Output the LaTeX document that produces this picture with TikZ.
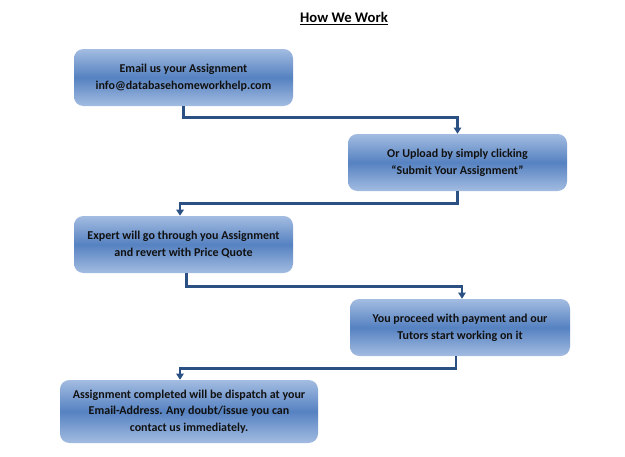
\documentclass[tikz,border=0pt]{standalone}
\usepackage{fontspec}
\setmainfont{Carlito}
\usetikzlibrary{arrows.meta,positioning,calc}
\definecolor{Navy}{HTML}{2B5083}
\definecolor{BoxLight}{HTML}{A3BCE1}
\definecolor{BoxMid}{HTML}{5682C1}
\definecolor{DarkText}{HTML}{111111}
\tikzset{
  stepbox/.style={rounded corners=7pt, top color=BoxLight, bottom color=BoxLight, middle color=BoxMid, minimum width=164.25pt, minimum height=42.75pt, inner sep=1pt, align=center, text=DarkText, font=\bfseries\fontsize{9}{12.5}\selectfont},
  arr/.style={-{Triangle[width=5.5pt,length=4.5pt]}, line width=2pt, draw=Navy}
}
\begin{document}
\begin{tikzpicture}[x=.75pt,y=-.75pt]
\useasboundingbox[fill=white] (0,0) rectangle (625,457);
\node[font=\bfseries\fontsize{11}{13}\selectfont] (title) at (344,19) {\underline{How We Work}};
\node[stepbox] (b1) at (183.5,77.5) {Email us your Assignment\\ info@databasehomeworkhelp.com};
\node[stepbox] (b2) at (457.5,162.5) {Or Upload by simply clicking\\ “Submit Your Assignment”};
\node[stepbox] (b3) at (183.5,244.5) {Expert will go through you Assignment\\ and revert with Price Quote};
\node[stepbox, minimum width=165pt] (b4) at (460,327.5) {You proceed with payment and our\\ Tutors start working on it};
\node[stepbox, minimum width=193.5pt, minimum height=47.25pt] (b5) at (189,411.5) {Assignment completed will be dispatch at your\\ Email-Address. Any doubt/issue you can\\ contact us immediately.};
% connectors
\draw[arr] (b1.south) -- ++(0,11) -| (b2.north);
\draw[arr] (b2.south) -- ++(0,12) -| ([xshift=-2.6pt]b3.north);
\draw[arr] ([xshift=2pt]b3.south) -- ++(0,13) -| ([xshift=1.5pt]b4.north);
\draw[arr] ([xshift=-3pt]b4.south) -- ++(0,12) -| ([xshift=-6.75pt]b5.north);
\end{tikzpicture}
\end{document}
